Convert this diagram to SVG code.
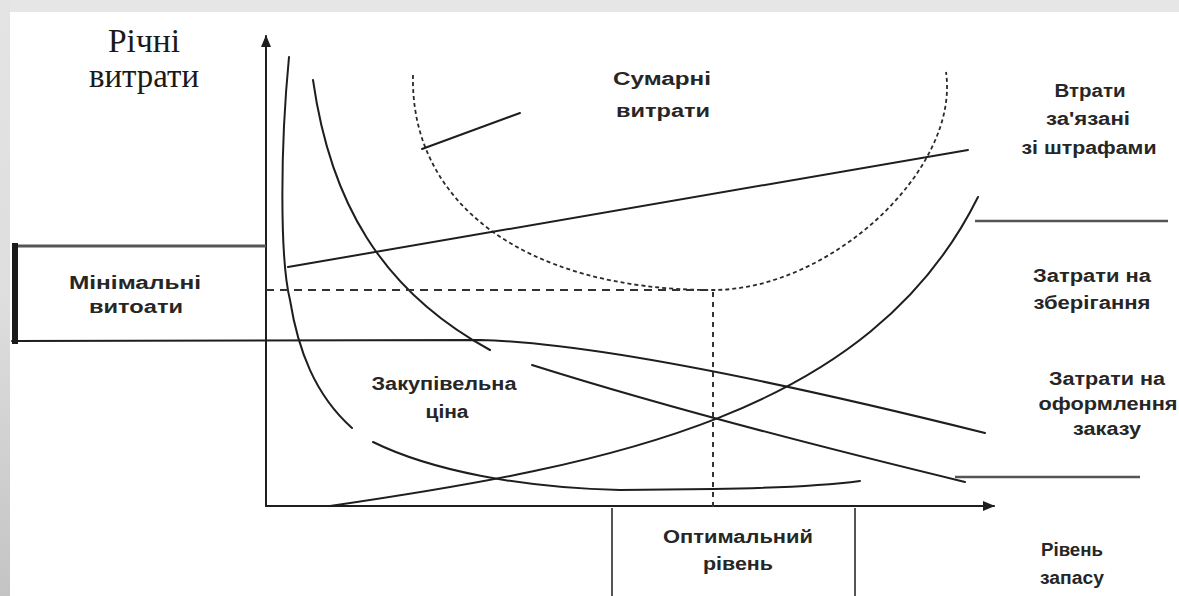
<svg xmlns="http://www.w3.org/2000/svg" width="1179" height="596" viewBox="0 0 1179 596">
<defs>
<style>
.ln{fill:none;stroke:#1e1e1e;stroke-width:2;stroke-linecap:round}
.gr{fill:none;stroke:#555;stroke-width:2.5}
.dash{fill:none;stroke:#2a2a2a;stroke-width:1.8;stroke-dasharray:4 3}
.dash2{fill:none;stroke:#333;stroke-width:1.8;stroke-dasharray:8 6}
.dot{fill:none;stroke:#333;stroke-width:2;stroke-dasharray:5 5}
.lbl{font-family:"Liberation Sans",Arial,sans-serif;font-weight:bold;fill:#262626;text-anchor:middle;font-size:18px}
.ser{font-family:"Liberation Serif","Times New Roman",serif;fill:#1a1a1a;text-anchor:middle;font-size:34px}
</style>
<linearGradient id="lg" x1="0" y1="0" x2="0" y2="1">
<stop offset="0" stop-color="#e4e4e4"/>
<stop offset="0.5" stop-color="#dedede"/>
<stop offset="1" stop-color="#c4c4c4"/>
</linearGradient>
<marker id="ah" viewBox="0 0 12 10" refX="11" refY="5" markerWidth="12" markerHeight="10" markerUnits="userSpaceOnUse" orient="auto">
<path d="M0,0 L12,5 L0,10 Z" fill="#1e1e1e"/>
</marker>
</defs>
<rect width="1179" height="596" fill="#ffffff"/>
<rect x="0" y="0" width="1179" height="12" fill="#e6e6e6"/>
<rect x="0" y="0" width="10" height="596" fill="url(#lg)"/>

<g id="connectors">
<line class="ln" x1="266" y1="506" x2="266" y2="36" marker-end="url(#ah)"/>
<line class="ln" x1="266" y1="506" x2="994" y2="506" marker-end="url(#ah)"/>
<path class="dash" d="M413,75 C410,200 520,290 713,290 C830,290 960,170 946,72"/>
<line class="ln" x1="422" y1="149" x2="520" y2="113"/>
<line class="ln" x1="288" y1="267" x2="968" y2="150"/>
<path class="ln" d="M330,506 C610,465 870,415 978,197"/>
<path class="ln" d="M12,341 L480,340 C560,342 700,362 985,433"/>
<path class="ln" d="M289,57 C280,150 280,260 290,300 C298,350 315,395 352,428"/>
<path class="ln" d="M373,442 C430,470 520,488 620,490 L713,489 C780,488 830,485 860,481"/>
<path class="ln" d="M313,80 C330,200 380,290 490,350"/>
<path class="ln" d="M532,365 Q700,418 965,482"/>
<line class="gr" x1="975" y1="221" x2="1168" y2="221"/>
<line class="gr" x1="955" y1="477" x2="1140" y2="477"/>
<line class="dash2" x1="266" y1="290" x2="713" y2="290"/>
<line class="dot" x1="713" y1="292" x2="713" y2="512"/>
</g>

<g id="y-label">
<text class="ser" x="144" y="52" textLength="72" lengthAdjust="spacingAndGlyphs">Річні</text>
<text class="ser" x="144" y="87" textLength="110" lengthAdjust="spacingAndGlyphs">витрати</text>
</g>

<g id="total-cost">
<text class="lbl" x="662" y="85" font-size="20" textLength="98" lengthAdjust="spacingAndGlyphs">Сумарні</text>
<text class="lbl" x="663" y="117" font-size="20" textLength="94" lengthAdjust="spacingAndGlyphs">витрати</text>
</g>

<g id="penalty-cost">
<text class="lbl" x="1090" y="97" textLength="71" lengthAdjust="spacingAndGlyphs">Втрати</text>
<text class="lbl" x="1088" y="125" textLength="84" lengthAdjust="spacingAndGlyphs">за'язані</text>
<text class="lbl" x="1089" y="154" textLength="135" lengthAdjust="spacingAndGlyphs">зі штрафами</text>
</g>

<g id="storage-cost">
<text class="lbl" x="1092" y="282" textLength="118" lengthAdjust="spacingAndGlyphs">Затрати на</text>
<text class="lbl" x="1092" y="309" textLength="117" lengthAdjust="spacingAndGlyphs">зберігання</text>
</g>

<g id="order-cost">
<text class="lbl" x="1107" y="385" textLength="116" lengthAdjust="spacingAndGlyphs">Затрати на</text>
<text class="lbl" x="1108" y="410" textLength="139" lengthAdjust="spacingAndGlyphs">оформлення</text>
<text class="lbl" x="1107" y="435" textLength="68" lengthAdjust="spacingAndGlyphs">заказу</text>
</g>

<g id="min-cost">
<line x1="15" y1="246" x2="266" y2="246" stroke="#555" stroke-width="3"/>
<line x1="15" y1="243" x2="15" y2="344" stroke="#1a1a1a" stroke-width="6"/>
<text class="lbl" x="135" y="289" font-size="20" textLength="132" lengthAdjust="spacingAndGlyphs">Мінімальні</text>
<text class="lbl" x="136" y="313" font-size="15" textLength="94" lengthAdjust="spacingAndGlyphs">витоати</text>
</g>

<g id="purchase-price">
<text class="lbl" x="444" y="390" textLength="145" lengthAdjust="spacingAndGlyphs">Закупівельна</text>
<text class="lbl" x="447" y="418" textLength="43" lengthAdjust="spacingAndGlyphs">ціна</text>
</g>

<g id="optimal-level">
<line x1="612" y1="508" x2="612" y2="596" stroke="#555" stroke-width="2"/>
<line x1="855" y1="508" x2="855" y2="596" stroke="#555" stroke-width="2"/>
<text class="lbl" x="738" y="543" textLength="150" lengthAdjust="spacingAndGlyphs">Оптимальний</text>
<text class="lbl" x="738" y="570" textLength="70" lengthAdjust="spacingAndGlyphs">рівень</text>
</g>

<g id="x-label">
<text class="lbl" x="1072" y="556" font-size="17" textLength="62" lengthAdjust="spacingAndGlyphs">Рівень</text>
<text class="lbl" x="1072" y="584" font-size="17" textLength="64" lengthAdjust="spacingAndGlyphs">запасу</text>
</g>
</svg>
